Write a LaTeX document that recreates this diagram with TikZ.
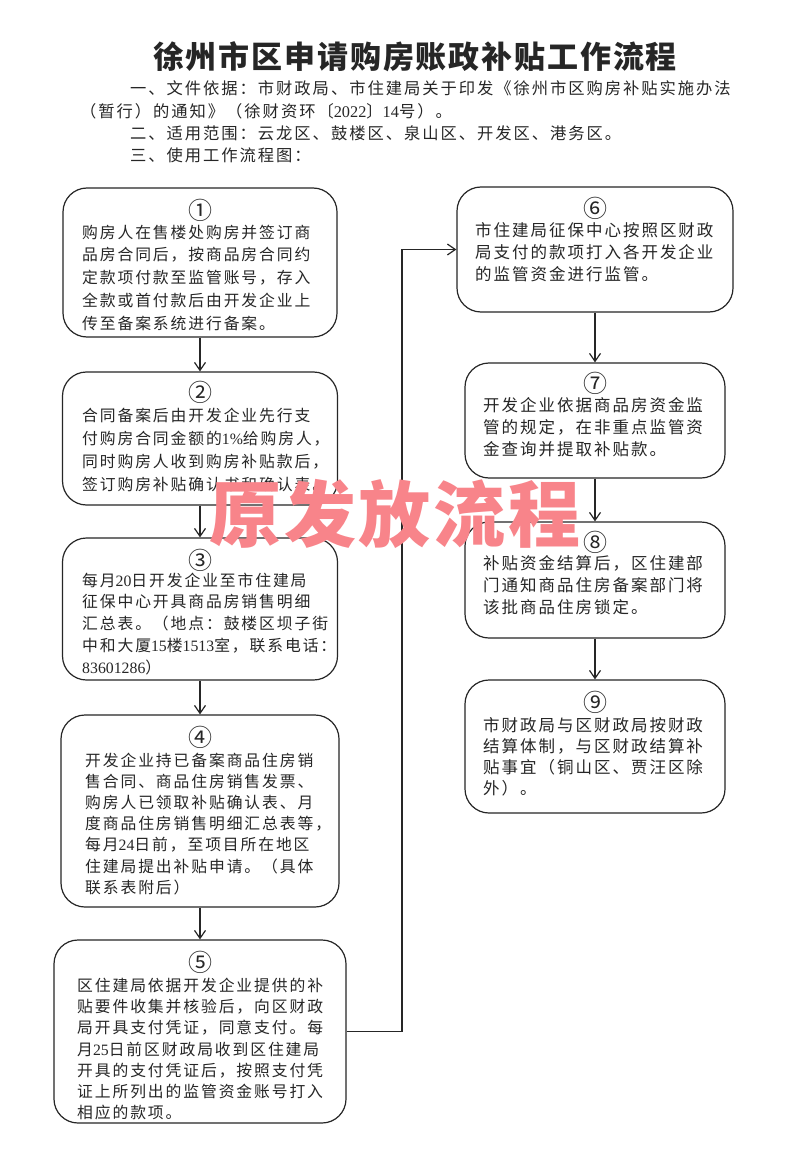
\documentclass[tikz,border=0pt]{standalone}
\usepackage{fontspec}
\usetikzlibrary{arrows.meta}
\newfontfamily\cjk{Noto Sans CJK SC}
\newfontfamily\cjkL[LetterSpace=12]{Noto Sans CJK SC}
\newfontfamily\cjkT[LetterSpace=6]{Noto Sans CJK SC}
\newfontfamily\cjkW[LetterSpace=4]{Noto Sans CJK SC}
\newfontfamily\latd{Liberation Serif}
\newcommand\dg[1]{{\latd #1}}
\definecolor{ink}{RGB}{38,38,38}
\definecolor{wmc}{RGB}{248,132,138}
\begin{document}
\begin{tikzpicture}[x=1pt,y=-1pt,
  box/.style={draw=ink, line width=1.2pt, rounded corners=24pt, inner sep=0pt},
  num/.style={font=\cjk\fontsize{24}{24}\selectfont, text=ink, inner sep=0pt},
  txtL/.style={font=\cjkL\fontsize{15.8}{#1}\selectfont, text=ink, align=left, inner sep=0pt, anchor=north west},
  txtR/.style={font=\cjkL\fontsize{16.5}{#1}\selectfont, text=ink, align=left, inner sep=0pt, anchor=north west},
  intro/.style={font=\cjkL\fontsize{16.3}{16.3}\selectfont, text=ink, inner sep=0pt, anchor=west},
  arr/.style={draw=ink, line width=1.2pt, -{Straight Barb[length=8pt,width=11pt,line width=1.2pt]}}
]
\fill[white] (0,0) rectangle (800,1155);
\useasboundingbox (0,0) rectangle (800,1155);

% title and intro
\node[font=\cjkT\bfseries\fontsize{31}{31}\selectfont, text=ink, inner sep=0pt] (title) at (415,57) {徐州市区申请购房账政补贴工作流程};
\node[intro] (l1) at (130,88) {一、文件依据：市财政局、市住建局关于印发《徐州市区购房补贴实施办法};
\node[intro] (l2) at (80,111) {（暂行）的通知》（徐财资环〔\dg{2022}〕\dg{14}号）。};
\node[intro] (l3) at (130,133) {二、适用范围：云龙区、鼓楼区、泉山区、开发区、港务区。};
\node[intro] (l4) at (130,155) {三、使用工作流程图：};

% boxes
\node[box, minimum width=274pt, minimum height=149pt] (b1) at (200,262.5) {};
\node[box, minimum width=275pt, minimum height=133pt] (b2) at (200,438.5) {};
\node[box, minimum width=275pt, minimum height=142pt] (b3) at (200,609) {};
\node[box, minimum width=278pt, minimum height=192pt] (b4) at (200,811) {};
\node[box, minimum width=292pt, minimum height=183pt] (b5) at (200,1031.5) {};
\node[box, minimum width=276pt, minimum height=125pt] (b6) at (595,249.5) {};
\node[box, minimum width=260pt, minimum height=115pt] (b7) at (595,420.5) {};
\node[box, minimum width=260pt, minimum height=116pt] (b8) at (595,580) {};
\node[box, minimum width=260pt, minimum height=133pt] (b9) at (595,746.5) {};

% numbers
\node[num] (n1) at (200,210) {①};
\node[num] (n2) at (200,392) {②};
\node[num] (n3) at (200,560) {③};
\node[num] (n4) at (200,737) {④};
\node[num] (n5) at (200,962) {⑤};
\node[num] (n6) at (595,208) {⑥};
\node[num] (n7) at (595,383) {⑦};
\node[num] (n8) at (595,542) {⑧};
\node[num] (n9) at (595,702) {⑨};

% texts
\node[txtL=22.8] (t1) at (82,224.5) {购房人在售楼处购房并签订商\\品房合同后，按商品房合同约\\定款项付款至监管账号，存入\\全款或首付款后由开发企业上\\传至备案系统进行备案。};
\node[txtL=23] (t2) at (82,407.5) {合同备案后由开发企业先行支\\付购房合同金额的\dg{1\%}给购房人，\\同时购房人收到购房补贴款后，\\签订购房补贴确认书和确认表。};
\node[txtL=21.8] (t3) at (82,572.5) {每月\dg{20}日开发企业至市住建局\\征保中心开具商品房销售明细\\汇总表。（地点：鼓楼区坝子街\\中和大厦\dg{15}楼\dg{1513}室，联系电话：\\\dg{83601286}）};
\node[txtL=21.2] (t4) at (85,752.5) {开发企业持已备案商品住房销\\售合同、商品住房销售发票、\\购房人已领取补贴确认表、月\\度商品住房销售明细汇总表等，\\每月\dg{24}日前，至项目所在地区\\住建局提出补贴申请。（具体\\联系表附后）};
\node[txtL=21.3] (t5) at (77,977.5) {区住建局依据开发企业提供的补\\贴要件收集并核验后，向区财政\\局开具支付凭证，同意支付。每\\月\dg{25}日前区财政局收到区住建局\\开具的支付凭证后，按照支付凭\\证上所列出的监管资金账号打入\\相应的款项。};
\node[txtR=21.7] (t6) at (475,222.5) {市住建局征保中心按照区财政\\局支付的款项打入各开发企业\\的监管资金进行监管。};
\node[txtR=21.7] (t7) at (483,397.5) {开发企业依据商品房资金监\\管的规定，在非重点监管资\\金查询并提取补贴款。};
\node[txtR=22] (t8) at (483,555.5) {补贴资金结算后，区住建部\\门通知商品住房备案部门将\\该批商品住房锁定。};
\node[txtR=21] (t9) at (483,717.5) {市财政局与区财政局按财政\\结算体制，与区财政结算补\\贴事宜（铜山区、贾汪区除\\外）。};

% connectors
\draw[arr] (b1) -- (b2);
\draw[arr] (b2) -- (b3);
\draw[arr] (b3) -- (b4);
\draw[arr] (b4) -- (b5);
\coordinate (bend) at (402,0);
\draw[arr] (b5.east) -| (bend |- b6.west) -- (b6.west);
\draw[arr] (b6) -- (b7);
\draw[arr] (b7) -- (b8);
\draw[arr] (b8) -- (b9);

% watermark
\node[font=\cjkW\bfseries\fontsize{72}{72}\selectfont, text=wmc, inner sep=0pt] (wm) at (395,514) {原发放流程};
\end{tikzpicture}
\end{document}
